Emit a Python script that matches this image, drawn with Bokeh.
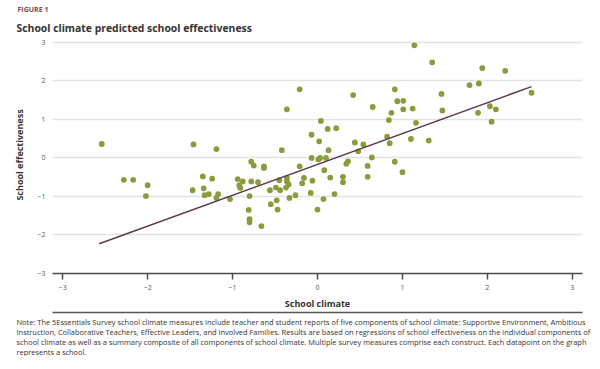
from bokeh.plotting import figure
from bokeh.models import Range1d, FixedTicker, ColumnDataSource, Title, LinearAxis
from bokeh.embed import file_html
from bokeh.resources import INLINE

# ---- data ----
climate = [-2.54, -2.28, -2.17, -2.00, -2.02, -1.46, -1.47, -1.35, -1.34, -1.33,
           -1.28, -1.24, -1.19, -1.19, -1.17, -1.03, -0.94, -0.92, -0.91, -0.88,
           -0.80, -0.78, -0.75, -0.78, -0.81, -0.80, -0.80, -0.70, -0.66, -0.63,
           -0.63, -0.56, -0.55, -0.49, -0.48, -0.47, -0.45, -0.44, -0.42, -0.37,
           -0.36, -0.36, -0.34, -0.33, -0.36, -0.21, -0.26, -0.21, -0.18, -0.16,
           -0.07, -0.07, -0.06, -0.08, 0.00, 0.02, 0.01, 0.03, 0.04, 0.07,
           0.08, 0.10, 0.13, 0.12, 0.15, 0.20, 0.22, 0.30, 0.30, 0.34,
           0.36, 0.42, 0.44, 0.48, 0.54, 0.59, 0.59, 0.64, 0.65, 0.82,
           0.84, 0.85, 0.87, 0.91, 0.91, 0.94, 1.00, 1.01, 1.01, 1.10,
           1.12, 1.14, 1.16, 1.31, 1.35, 1.46, 1.47, 1.79, 1.89, 1.90,
           1.94, 2.03, 2.05, 2.10, 2.21, 2.52]
effectiveness = [0.36, -0.57, -0.57, -0.71, -0.99, 0.35, -0.84, -0.48, -0.79, -0.97,
                 -0.94, -0.54, 0.23, -1.04, -0.94, -1.07, -0.55, -0.71, -0.78, -0.61,
                 -0.99, -0.10, -0.20, -0.61, -1.35, -1.59, -1.67, -0.63, -1.77, -0.22,
                 -0.26, -0.84, -1.20, -0.77, -1.10, -1.34, -0.58, -0.84, 0.20, -0.77,
                 -0.52, -0.61, -0.69, -1.04, 1.26, 1.78, -0.97, -0.22, -0.66, -0.52,
                 0.60, 0.00, -0.59, -0.91, -1.34, 0.43, -0.04, 0.00, 0.96, -1.07,
                 -0.32, 0.00, 0.20, 0.75, -0.51, -0.94, 0.77, -0.49, -0.63, -0.15,
                 -0.09, 1.63, 0.40, 0.17, 0.35, -0.21, -0.49, 0.01, 1.32, 0.55,
                 0.98, 0.38, 1.17, -0.10, 1.78, 1.47, -0.37, 1.48, 1.26, 0.49,
                 1.28, 2.92, 0.91, 0.45, 2.48, 1.66, 1.23, 1.89, 1.17, 1.93,
                 2.33, 1.34, 0.94, 1.26, 2.26, 1.69]
fit_x = [-2.57, 2.52]
fit_y = [-2.23, 1.85]
x_ticks = [-3, -2, -1, 0, 1, 2, 3]
y_ticks = [-3, -2, -1, 0, 1, 2, 3]

fig_label = "FIGURE 1"
title_text = "School climate predicted school effectiveness"
note_lines = [
    "Note: The 5Essentials Survey school climate measures include teacher and student reports of five components of school climate: Supportive Environment, Ambitious",
    "Instruction, Collaborative Teachers, Effective Leaders, and Involved Families. Results are based on regressions of school effectiveness on the individual components of",
    "school climate as well as a summary composite of all components of school climate. Multiple survey measures comprise each construct. Each datapoint on the graph",
    "represents a school.",
]

FONT = "Open Sans"

p = figure(width=592, height=356, output_backend="svg", toolbar_location=None,
           x_range=Range1d(-3.12, 3.12), y_range=Range1d(-3, 3.15),
           min_border_left=52, min_border_right=10, min_border_top=0,
           min_border_bottom=0)
p.outline_line_color = None
p.background_fill_color = "white"
p.border_fill_color = "white"

p.xgrid.visible = False
p.ygrid.grid_line_color = "#e2e2e2"
p.ygrid.grid_line_width = 1.5
p.ygrid.ticker = FixedTicker(ticks=y_ticks)

p.xaxis.ticker = FixedTicker(ticks=x_ticks)
p.yaxis.ticker = FixedTicker(ticks=y_ticks)

for ax in (p.xaxis[0], p.yaxis[0]):
    ax.major_label_text_font = FONT
    ax.major_label_text_font_size = "7px"
    ax.major_label_text_color = "#555555"
    ax.axis_label_text_font = FONT
    ax.axis_label_text_font_style = "bold"
    ax.axis_label_text_font_size = "9px"
    ax.axis_label_text_color = "#333333"
    ax.minor_tick_line_color = None

p.xaxis.axis_label = "School climate"
p.xaxis.axis_line_color = "#4a4a4a"
p.xaxis.axis_line_width = 1.5
p.xaxis.major_tick_line_color = "#4a4a4a"
p.xaxis.major_tick_line_width = 1.5
p.xaxis.major_tick_in = 0
p.xaxis.major_tick_out = 6
p.xaxis.major_label_standoff = 5
p.xaxis.axis_label_standoff = 4

p.yaxis.axis_label = "School effectiveness"
p.yaxis.axis_line_color = None
p.yaxis.major_tick_line_color = None
p.yaxis.major_tick_out = 0
p.yaxis.major_tick_in = 0
p.yaxis.major_label_standoff = 7
p.yaxis.axis_label_standoff = 8

src = ColumnDataSource(dict(x=climate, y=effectiveness))
p.scatter("x", "y", source=src, size=5.8, fill_color="#8a9a3c", line_color=None)
p.line(fit_x, fit_y, line_color="#5a3a4a", line_width=1.5)


def gap_axis(gap):
    # invisible axis used only to reserve empty space in a side panel
    return LinearAxis(ticker=FixedTicker(ticks=[]), axis_line_color=None,
                      major_tick_line_color=None, minor_tick_line_color=None,
                      major_tick_in=0, major_tick_out=int(round(gap)), minor_tick_in=0,
                      minor_tick_out=0, major_label_standoff=0)


# ---- header (stacked above the frame, innermost first) ----
p.add_layout(gap_axis(18), "above")
p.add_layout(Title(text=title_text, align="left", offset=-36, standoff=4,
                   text_font=FONT, text_font_style="bold", text_font_size="10.4px",
                   text_color="#333333"), "above")
p.add_layout(Title(text=fig_label, align="left", offset=-35, standoff=5,
                   text_font=FONT, text_font_style="bold", text_font_size="7px",
                   text_color="#7a4a55"), "above")
p.add_layout(gap_axis(4), "above")

# ---- gap, separator rule and note (below the x axis) ----
p.add_layout(gap_axis(6), "below")
rule = LinearAxis(ticker=FixedTicker(ticks=[0]), axis_line_color="#555555",
                  axis_line_width=1.5, major_tick_in=0, major_tick_out=4,
                  minor_tick_in=0, minor_tick_out=0, major_label_standoff=0,
                  major_label_text_font_size="1px", major_label_text_alpha=0,
                  major_tick_line_color=None, minor_tick_line_color=None)
p.add_layout(rule, "below")
for ln in note_lines:
    p.add_layout(Title(text=ln, align="left", offset=-36, standoff=-1.6,
                       text_font=FONT, text_font_style="normal", text_font_size="7.45px",
                       text_color="#333333"), "below")

open("out.html", "w").write(file_html(p, INLINE))
